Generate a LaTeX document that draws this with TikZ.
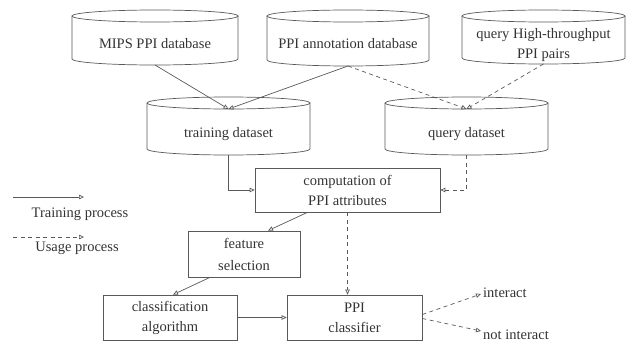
\documentclass[tikz,border=0pt]{standalone}
\usepackage{fontspec}
\setmainfont{Liberation Serif}
\usetikzlibrary{arrows.meta,calc}

\definecolor{linegray}{gray}{0.35}
\definecolor{textgray}{gray}{0.2}

% database cylinder: name, x1, y1, x2, y2, text, text y
\newcommand\dbcyl[7]{%
  \draw[cylline] ({(#2+#4)/2},{#3+6}) ellipse [x radius={(#4-#2)/2*1pt}, y radius=6pt];
  \draw[cylline] (#2,{#3+6}) -- (#2,{#5-6})
    arc [start angle=180, end angle=360, x radius={(#4-#2)/2*1pt}, y radius=6pt]
    -- (#4,{#3+6});
  \node[lbl] (#1) at ({(#2+#4)/2},#7) {#6};
  \coordinate (#1-top) at ({(#2+#4)/2},{#3+12});
  \coordinate (#1-bot) at ({(#2+#4)/2},#5);
}

\begin{document}
\begin{tikzpicture}[x=1pt,y=-1pt,
  cylline/.style={draw=linegray, line width=0.7pt},
  lbl/.style={text=textgray, align=center, inner sep=0pt,
    font=\fontsize{14.5}{20}\selectfont},
  box/.style={lbl, draw=linegray, line width=0.7pt, rectangle},
  conn/.style={draw=linegray, line width=0.7pt,
    -{Triangle[open, length=5pt, width=4.5pt]}},
  usage/.style={conn, dash pattern=on 4pt off 3.5pt}]

\useasboundingbox (0,0) rectangle (636,345);

% data sources
\dbcyl{mips}{72}{10}{238}{65}{MIPS PPI database}{44}
\dbcyl{annot}{267}{10}{429}{66}{PPI annotation database}{44}
\dbcyl{ht}{462}{10}{625}{64}{query High-throughput\\PPI pairs}{45}

% datasets
\dbcyl{train}{147}{97}{310}{155}{training dataset}{134}
\dbcyl{query}{385}{97}{548}{155}{query dataset}{134}

% processing steps
\node[box, minimum width=185pt, minimum height=44pt] (comp) at (347.5,190) {computation of\\PPI attributes};
\node[box, minimum width=112pt, minimum height=46pt, font=\fontsize{14.5}{22}\selectfont] (feat) at (244,254) {feature\\selection};
\node[box, minimum width=134pt, minimum height=45pt] (class) at (170,317.5) {classification\\algorithm};
\node[box, minimum width=135pt, minimum height=45pt] (ppi) at (354.5,317.5) {PPI\\classifier};

% outcomes
\node[lbl, anchor=west] (yes) at (483,293) {interact};
\node[lbl, anchor=west] (no) at (483,335) {not interact};

% legend
\coordinate (lt1) at (13,197);
\coordinate (lt2) at (84,197);
\coordinate (lu1) at (13,237);
\coordinate (lu2) at (84,237);
\draw[conn] (lt1) -- (lt2);
\node[lbl] (ltrain) at (80,214) {Training process};
\draw[usage] (lu1) -- (lu2);
\node[lbl] (lusage) at (77,248) {Usage process};

% training flow
\draw[conn] (mips-bot) -- (train-top);
\draw[conn] (annot-bot) -- (train-top);
\draw[conn] (train-bot) |- (comp.west);
\draw[conn] ($(comp.south)+(-40,0)$) -- ($(feat.north)+(24,0)$);
\draw[conn] ($(feat.south)+(-34,0)$) -- ($(class.north)+(3,0)$);
\draw[conn] (class.east) -- (ppi.west);

% usage flow
\draw[usage] (annot-bot) -- (query-top);
\draw[usage] (ht-bot) -- (query-top);
\draw[usage] (query-bot) |- (comp.east);
\draw[usage] (comp.south) -- (comp.south |- ppi.north);
\draw[usage] ($(ppi.east)+(0,-3)$) -- ($(yes.west)+(-2,1)$);
\draw[usage] ($(ppi.east)+(0,1)$) -- ($(no.west)+(-2,-4)$);
\end{tikzpicture}
\end{document}
